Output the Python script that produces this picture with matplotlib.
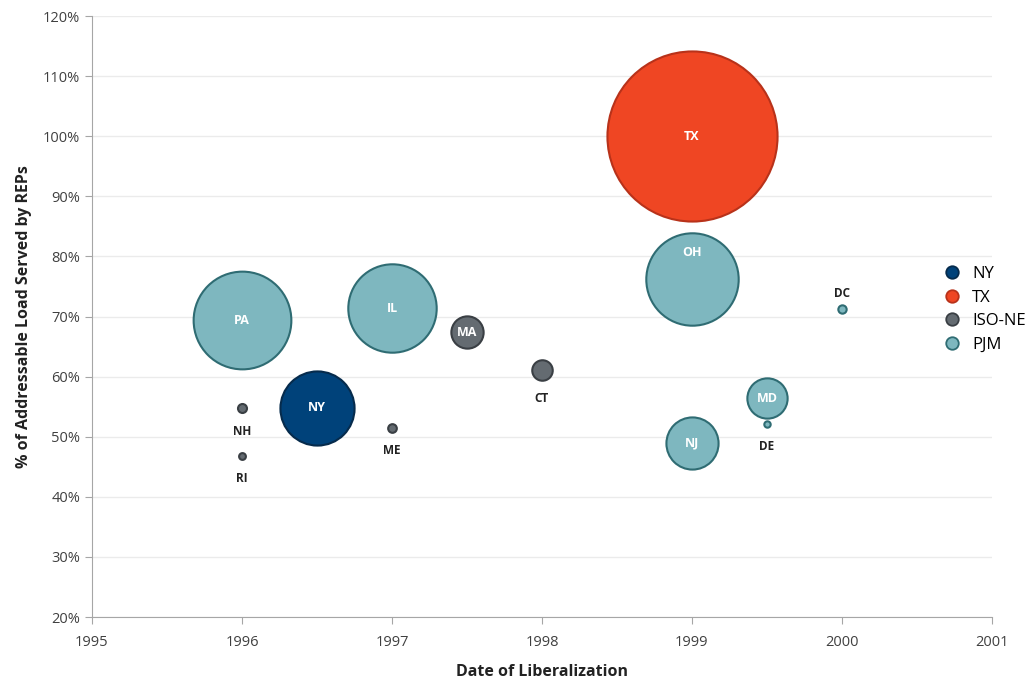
import matplotlib.pyplot as plt
from matplotlib.ticker import PercentFormatter

# Estados y su fecha de liberalización
estados = ["PA", "NH", "RI", "NY", "IL", "ME", "MA", "CT", "TX", "OH", "NJ", "MD", "DE", "DC"]
fecha = [1996, 1996, 1996, 1996.5, 1997, 1997, 1997.5, 1998, 1999, 1999, 1999, 1999.5, 1999.5, 2000]
# % de la carga servida por REPs
carga = [69.4, 54.7, 46.8, 54.8, 71.4, 51.5, 67.4, 61.1, 100.0, 76.2, 48.9, 56.4, 52.1, 71.3]
# Tamaño relativo de la carga (área de la burbuja)
tamano = [33.0, 0.28, 0.16, 19.0, 27.0, 0.26, 3.6, 1.45, 100.0, 29.5, 9.4, 5.6, 0.14, 0.24]
# Mercado al que pertenece cada estado
mercado = ["PJM", "ISO-NE", "ISO-NE", "NY", "PJM", "ISO-NE", "ISO-NE", "ISO-NE", "TX", "PJM", "PJM", "PJM", "PJM", "PJM"]
# Posición de la etiqueta: dentro, abajo, arriba o en la parte alta de la burbuja
pos_etiqueta = ["in", "below", "below", "in", "in", "below", "in", "below", "in", "top", "in", "in", "below", "above"]

mercados = ["NY", "TX", "ISO-NE", "PJM"]
relleno = {"NY": "#00427A", "TX": "#EF4623", "ISO-NE": "#646B71", "PJM": "#7EB7BF"}
borde = {"NY": "#062B4C", "TX": "#B8321A", "ISO-NE": "#3A3F44", "PJM": "#2F6C73"}

plt.rcParams["font.family"] = ["Open Sans", "DejaVu Sans"]

fig = plt.figure(figsize=(10.30, 6.79), dpi=100)
ax = fig.add_axes([0.0893, 0.0913, 0.8737, 0.8851])

escala = 150  # puntos^2 por unidad de tamaño

# Burbujas, las grandes primero para que las pequeñas queden encima
orden = sorted(range(len(estados)), key=lambda i: -tamano[i])
for i in orden:
    m = mercado[i]
    ax.scatter(fecha[i], carga[i], s=tamano[i] * escala, color=relleno[m],
               edgecolor=borde[m], linewidth=1.5, zorder=3)

# Etiquetas de cada estado
for i in range(len(estados)):
    if pos_etiqueta[i] == "in":
        ax.annotate(estados[i], (fecha[i], carga[i]), ha="center", va="center",
                    color="white", fontsize=9, fontweight="bold", zorder=4)
    elif pos_etiqueta[i] == "top":
        ax.annotate(estados[i], (fecha[i], carga[i]), xytext=(0, 19), textcoords="offset points",
                    ha="center", va="center", color="white", fontsize=9, fontweight="bold", zorder=4)
    elif pos_etiqueta[i] == "above":
        ax.annotate(estados[i], (fecha[i], carga[i]), xytext=(0, 11), textcoords="offset points",
                    ha="center", va="center", color="#222222", fontsize=8.5, fontweight="bold", zorder=4)
    else:
        r = (tamano[i] * escala) ** 0.5 / 2
        ax.annotate(estados[i], (fecha[i], carga[i]), xytext=(0, -(r + 13.5)), textcoords="offset points",
                    ha="center", va="center", color="#222222", fontsize=8.5, fontweight="bold", zorder=4)

# Ejes
ax.set_xlim(1995, 2001)
ax.set_ylim(20, 120)
ax.set_xticks(range(1995, 2002))
ax.set_yticks(range(20, 121, 10))
ax.yaxis.set_major_formatter(PercentFormatter(decimals=0))
ax.tick_params(axis="both", labelsize=10.5, colors="#404040", length=5, color="#A6A6A6")
ax.tick_params(axis="x", pad=8)
ax.grid(axis="y", color="#EBEBEB", linewidth=1, zorder=0)
ax.set_axisbelow(True)
for lado in ["top", "right"]:
    ax.spines[lado].set_visible(False)
for lado in ["left", "bottom"]:
    ax.spines[lado].set_color("#A6A6A6")

ax.set_xlabel("Date of Liberalization", fontsize=11.5, fontweight="bold", color="#222222", labelpad=10)
ax.set_ylabel("% of Addressable Load Served by REPs", fontsize=11.5, fontweight="bold", color="#222222", labelpad=8)

# Leyenda por mercado
manijas = [plt.Line2D([], [], marker="o", linestyle="", markersize=9, markerfacecolor=relleno[m],
                      markeredgecolor=borde[m], markeredgewidth=1.3) for m in mercados]
ax.legend(manijas, mercados, loc="upper left", bbox_to_anchor=(0.93, 0.595), frameon=False,
          fontsize=12, handletextpad=0.2, labelspacing=0.45, borderaxespad=0)

fig.savefig("out.png", dpi=100)
